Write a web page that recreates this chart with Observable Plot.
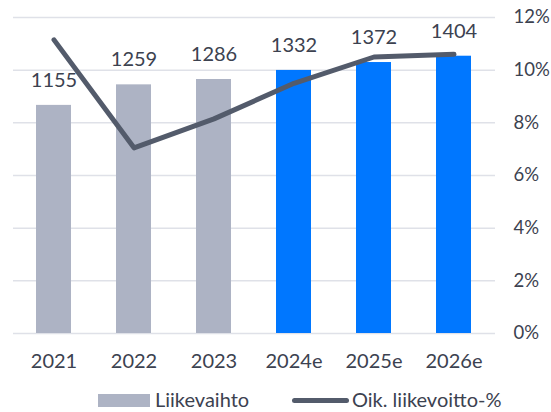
<!DOCTYPE html>
<html>
<head>
<meta charset="utf-8">
<script src="https://cdn.jsdelivr.net/npm/d3@7"></script>
<script src="https://cdn.jsdelivr.net/npm/@observablehq/plot@0.6"></script>
<style>
  html, body { margin: 0; padding: 0; background: #fff; }
  body { width: 551px; height: 412px; overflow: hidden; font-family: Lato, "Open Sans", sans-serif; }
  #chart svg { display: block; }
  #legend { position: relative; height: 39px; font-size: 20px; color: #3c4250; overflow: hidden; }
  #legend span { position: absolute; top: 14px; line-height: 24px; white-space: nowrap; }
  .sw-bar { position: absolute; left: 98px; top: 21px; width: 52px; height: 13px; background: #adb3c4; }
  .sw-line { position: absolute; left: 292px; top: 25px; width: 57px; height: 5px; border-radius: 3px; background: #535b6b; }
</style>
</head>
<body>
<div id="chart"></div>
<div id="legend">
  <div class="sw-bar"></div><span style="left:155px">Liikevaihto</span>
  <div class="sw-line"></div><span style="left:352px">Oik. liikevoitto-%</span>
</div>
<script>
const years = ["2021", "2022", "2023", "2024e", "2025e", "2026e"];
const revenue = [1155, 1259, 1286, 1332, 1372, 1404];
const margin = [11.15, 7.05, 8.15, 9.5, 10.5, 10.6];
const pctTicks = [0, 2, 4, 6, 8, 10, 12];
const revMax = 1600;
const pctMax = 12;
const grayColor = "#adb3c4";
const blueColor = "#0077ff";
const lineColor = "#535b6b";
const textColor = "#3c4250";

const toRev = p => p * revMax / pctMax;
const data = years.map((y, i) => ({year: y, revenue: revenue[i], margin: margin[i], est: y.endsWith("e")}));

const chart = Plot.plot({
  width: 551,
  height: 373,
  marginLeft: 13,
  marginRight: 56,
  marginTop: 17,
  marginBottom: 40,
  style: {fontFamily: "Lato, 'Open Sans', sans-serif", fontSize: "20px", color: textColor, background: "#fff"},
  x: {domain: years, paddingInner: 0.56, paddingOuter: 0.28, label: null},
  y: {domain: [0, revMax], label: null},
  marks: [
    Plot.gridY(pctTicks.map(toRev), {stroke: "#dfe1e8", strokeOpacity: 1, strokeWidth: 1.5}),
    Plot.barY(data, {x: "year", y: "revenue", fill: d => d.est ? blueColor : grayColor}),
    Plot.text(data, {x: "year", y: "revenue", text: d => String(d.revenue), dy: -25, fontSize: 20, fill: textColor}),
    Plot.line(data, {x: "year", y: d => toRev(d.margin), stroke: lineColor, strokeWidth: 5, strokeLinecap: "round", strokeLinejoin: "round"}),
    Plot.axisX({tickSize: 0, tickPadding: 20, fontSize: 20, label: null}),
    Plot.axisY(pctTicks.map(toRev), {anchor: "right", tickSize: 0, tickPadding: 18, textAnchor: "start", tickFormat: d => Math.round(d * pctMax / revMax) + "%", label: null, fontSize: 18.5})
  ]
});
document.getElementById("chart").appendChild(chart);
</script>
</body>
</html>
